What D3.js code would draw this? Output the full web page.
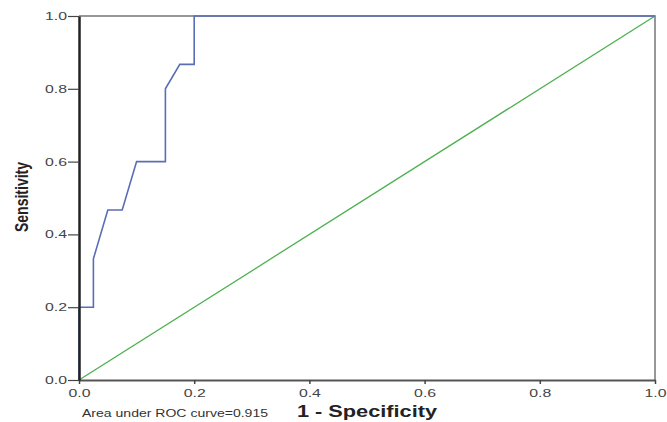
<!DOCTYPE html>
<html>
<head>
<meta charset="utf-8">
<title>ROC curve</title>
<script src="https://d3js.org/d3.v7.min.js"></script>
<style type="text/css">
	body{ margin:0; background:white; }
	.tick text{ font-family:"Liberation Sans", Arial, sans-serif; font-size:11px; fill:#444; }
	.frame{ fill:none; stroke:#777; stroke-width:1.5; }
	.roc{ fill:none; stroke:#5b6db5; stroke-width:1.6; }
	.ref{ fill:none; stroke:#4cb050; stroke-width:1.3; }
</style>
</head>
<body>
<svg id="chart" width="667" height="422"></svg>
<script>
	// ROC curve points (1 - specificity, sensitivity)
	var fpr = [0, 0, 0.025, 0.025, 0.05, 0.075, 0.1, 0.15, 0.15, 0.175, 0.2, 0.2, 1];
	var tpr = [0, 0.2, 0.2, 0.333, 0.467, 0.467, 0.6, 0.6, 0.8, 0.867, 0.867, 1, 1];
	// reference line
	var refX = [0, 1];
	var refY = [0, 1];
	var ticks = [0, 0.2, 0.4, 0.6, 0.8, 1.0];
	var aucText = "Area under ROC curve=0.915";

	var svg = d3.select("#chart");
	var margin = {top:16, right:12, bottom:42, left:79};
	var w = +svg.attr("width") - margin.left - margin.right;
	var h = +svg.attr("height") - margin.top - margin.bottom;
	var g = svg.append("g")
		.attr("transform","translate("+margin.left+","+margin.top+")");

	var x = d3.scaleLinear().domain([0,1]).range([0,w]);
	var y = d3.scaleLinear().domain([0,1]).range([h,0]);

	// frame (top and right)
	g.append("path")
		.attr("class","frame")
		.attr("d","M0,0H"+w+"V"+h);

	var line = d3.line().x(function(d){ return x(d[0]); }).y(function(d){ return y(d[1]); });

	g.append("path")
		.attr("class","ref")
		.attr("d", line(d3.zip(refX, refY)));

	g.append("path")
		.attr("class","roc")
		.attr("d", line(d3.zip(fpr, tpr)));

	var xAxis = g.append("g")
		.attr("transform","translate(0,"+h+")")
		.call(d3.axisBottom(x).tickValues(ticks).tickFormat(d3.format(".1f")).tickSize(4).tickSizeOuter(0));
	xAxis.select(".domain").attr("stroke","#555").attr("stroke-width",2);
	xAxis.selectAll(".tick line").attr("stroke","#444").attr("stroke-width",1.5);
	xAxis.selectAll(".tick text").attr("dy",null).attr("y",17)
		.attr("textLength",22).attr("lengthAdjust","spacingAndGlyphs");

	var yAxis = g.append("g")
		.call(d3.axisLeft(y).tickValues(ticks).tickFormat(d3.format(".1f")).tickSize(11).tickSizeOuter(0));
	yAxis.select(".domain").attr("stroke","#222").attr("stroke-width",2.5);
	yAxis.selectAll(".tick line").attr("stroke","#444").attr("stroke-width",1.2);
	yAxis.selectAll(".tick text").attr("x",-12)
		.attr("textLength",22).attr("lengthAdjust","spacingAndGlyphs");

	// axis titles
	svg.append("text")
		.attr("x", margin.left + w/2)
		.attr("y", 417)
		.attr("text-anchor","middle")
		.attr("textLength",140).attr("lengthAdjust","spacingAndGlyphs")
		.style("font-family","'Liberation Sans', Arial, sans-serif")
		.style("font-weight","bold")
		.style("font-size","16px")
		.style("fill","#222")
		.text("1 - Specificity");

	svg.append("text")
		.attr("transform","translate(28,197) rotate(-90)")
		.attr("text-anchor","middle")
		.attr("textLength",70).attr("lengthAdjust","spacingAndGlyphs")
		.style("font-family","'Liberation Sans Narrow', 'Liberation Sans', sans-serif")
		.style("font-weight","bold")
		.style("font-size","18px")
		.style("fill","#222")
		.text("Sensitivity");

	svg.append("text")
		.attr("x", 82)
		.attr("y", 417)
		.attr("textLength",186).attr("lengthAdjust","spacingAndGlyphs")
		.style("font-family","'Liberation Sans', Arial, sans-serif")
		.style("font-size","10px")
		.style("fill","#333")
		.text(aucText);
</script>
</body>
</html>
